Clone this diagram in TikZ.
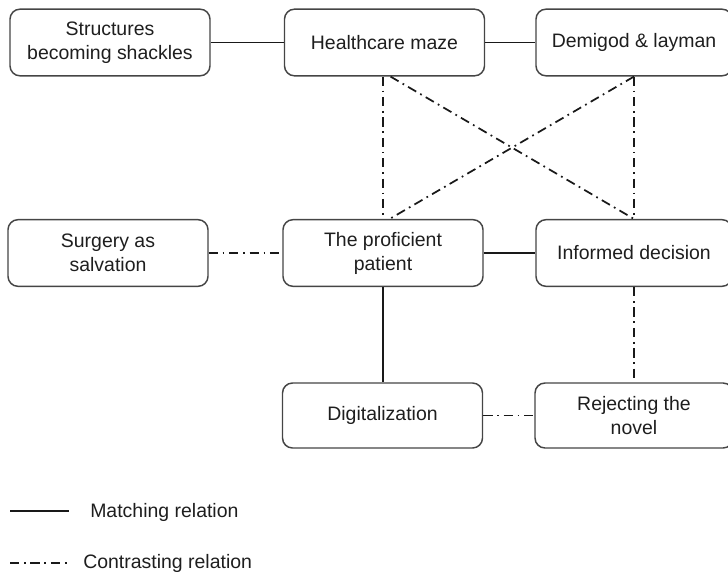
\documentclass[tikz,border=0pt]{standalone}
\usepackage{fontspec}
\setmainfont{Liberation Sans}
\definecolor{boxline}{HTML}{454545}
\definecolor{txt}{HTML}{1E1E1E}
\begin{document}
\begin{tikzpicture}[x=0.75pt,y=-0.75pt,
  box/.style={draw=boxline, line width=1.1pt, rounded corners=7.5pt, minimum width=150pt, minimum height=50pt, align=center, text=txt, font=\fontsize{14.6}{18}\selectfont, inner sep=2pt},
  match/.style={draw=black!90, line width=1.35pt},
  contrast/.style={draw=black!90, line width=1.3pt, dash pattern=on 7pt off 3.5pt on 1.3pt off 3.5pt},
  legtext/.style={anchor=west, inner sep=0pt, text=txt, font=\fontsize{14.6}{18}\selectfont}]
\useasboundingbox (0,0) rectangle (728,574);
\node[box] (S) at (110,42.5) {Structures\\becoming shackles};
\node[box] (H) at (384.5,42.5) {Healthcare maze};
\node[box, minimum width=147pt] (D) at (634,42.5) {Demigod \& layman};
\node[box] (Su) at (108,253) {Surgery as\\salvation};
\node[box] (P) at (383,253) {The proficient\\patient};
\node[box, minimum width=147pt] (I) at (634,253) {Informed decision};
\node[box, minimum height=48.75pt] (Dg) at (382.5,415.5) {Digitalization};
\node[box, minimum width=148.5pt, minimum height=48.75pt] (R) at (634,415.5) {Rejecting the\\novel};
\draw[match] (S) -- (H);
\draw[match] (H) -- (D);
\draw[contrast] (H.south -| P.north) -- (P.north);
\draw[contrast] ([xshift=4.5pt]H.south) -- (I.north);
\draw[contrast] (D.south) -- ([xshift=5pt]P.north);
\draw[contrast] (D.south) -- (I.north);
\draw[contrast] (Su) -- (P);
\draw[match] (P) -- (I);
\draw[match] (P.south) -- (P.south |- Dg.north);
\draw[contrast] (I.south) -- (I.south |- R.north);
\draw[contrast] (Dg) -- (R);
\coordinate (l1a) at (10,511);
\coordinate (l1b) at (69,511);
\coordinate (l2a) at (10,563);
\coordinate (l2b) at (69,563);
\draw[match] (l1a) -- (l1b);
\draw[contrast] (l2a) -- (l2b);
\node[legtext] (m) at (90,512) {Matching relation};
\node[legtext] (c) at (83,563) {Contrasting relation};
\end{tikzpicture}
\end{document}
